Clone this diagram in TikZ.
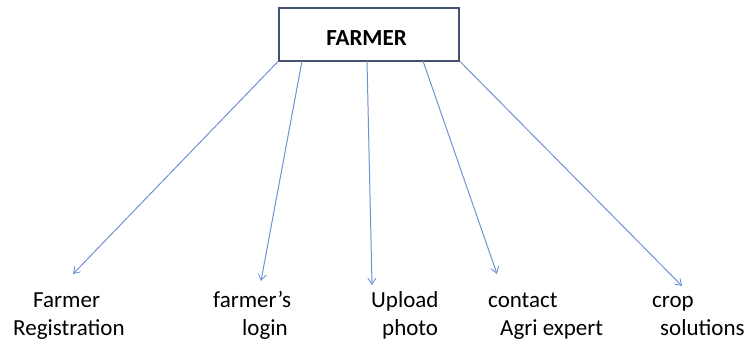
\documentclass[tikz,border=0pt]{standalone}
\usepackage{fontspec}
\setmainfont{Carlito}
\usetikzlibrary{arrows.meta}

\definecolor{boxline}{RGB}{66,82,112}
\definecolor{linkline}{RGB}{112,146,212}

\tikzset{
  rootbox/.style={draw=boxline, line width=2pt, minimum width=180pt, minimum height=53pt, inner sep=0pt},
  rootlabel/.style={font=\fontsize{23}{28}\selectfont\bfseries, inner sep=0pt, anchor=base},
  leaf/.style={font=\fontsize{23}{28}\selectfont, inner sep=0pt, anchor=base west},
  link/.style={draw=linkline, line width=1pt, -{Straight Barb[length=6pt,width=8pt,line width=0.9pt]}}
}

\begin{document}
\begin{tikzpicture}[x=1pt,y=-1pt]
  \useasboundingbox (0,0) rectangle (749,343);

  % root box
  \node[rootbox] (farmer) at (369,34) {};
  \node[rootlabel] (farmertxt) at (366.5,45) {FARMER};

  % leaf labels, two lines each
  \node[leaf] (reg1) at (33,307) {Farmer};
  \node[leaf] (reg2) at (13,335) {Registration};
  \node[leaf] (log1) at (213,307) {farmer’s};
  \node[leaf] (log2) at (242,335) {login};
  \node[leaf] (up1) at (371,307) {Upload};
  \node[leaf] (up2) at (382,335) {photo};
  \node[leaf] (con1) at (488,307) {contact};
  \node[leaf] (con2) at (500,335) {Agri expert};
  \node[leaf] (crop1) at (652,307) {crop};
  \node[leaf] (crop2) at (660,335) {solutions};

  % start points on the bottom edge of the box
  \coordinate (s1) at (farmer.south west);
  \coordinate (s2) at (302,61);
  \coordinate (s3) at (367,61);
  \coordinate (s4) at (423,61);
  \coordinate (s5) at (farmer.south east);

  % arrow ends above the labels
  \coordinate (e1) at (73,274);
  \coordinate (e2) at (261,281);
  \coordinate (e3) at (372,285);
  \coordinate (e4) at (497,274);
  \coordinate (e5) at (682,286);

  \draw[link] (s1) -- (e1);
  \draw[link] (s2) -- (e2);
  \draw[link] (s3) -- (e3);
  \draw[link] (s4) -- (e4);
  \draw[link] (s5) -- (e5);
\end{tikzpicture}
\end{document}
